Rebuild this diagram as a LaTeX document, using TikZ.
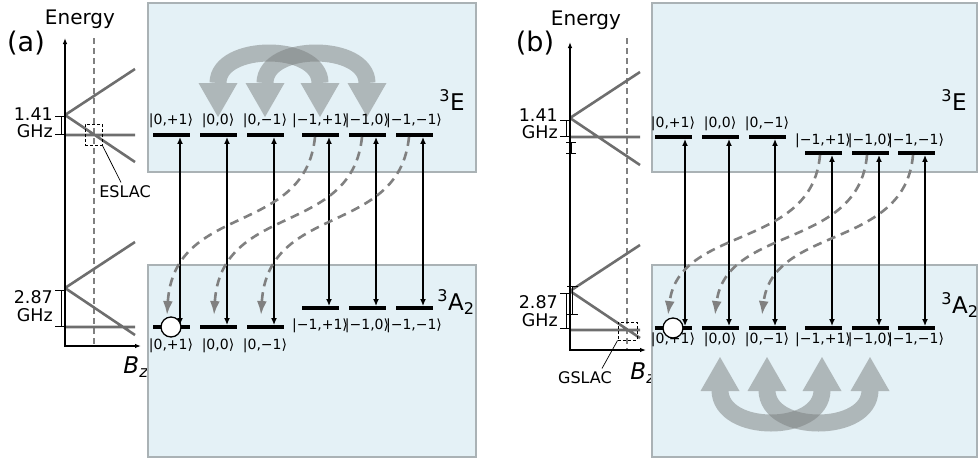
\documentclass[tikz,border=0pt]{standalone}
\usepackage{fontspec}
\setmainfont{DejaVu Sans}
\usetikzlibrary{arrows.meta,positioning}
\definecolor{boxfill}{RGB}{228,241,246}
\definecolor{boxline}{RGB}{170,178,181}
\definecolor{lineg}{RGB}{110,110,110}
\definecolor{dashg}{RGB}{128,128,128}
\definecolor{mixg}{RGB}{122,126,126}

\begin{document}
\begin{tikzpicture}[x=1pt, y=-1pt, >=Latex,
  panel/.style={fill=boxfill, draw=boxline, line width=1.2pt},
  level/.style={rectangle, fill=black, inner sep=0pt, minimum width=37pt, minimum height=3.5pt},
  ket/.style={inner sep=1pt, font=\fontsize{14}{16}\selectfont},
  trans/.style={{Latex[length=7pt,width=6pt]}-{Latex[length=7pt,width=6pt]}, line width=1.5pt},
  decay/.style={-{Latex[length=14pt,width=10pt]}, draw=dashg, line width=2.6pt, dash pattern=on 9pt off 6pt},
  branch/.style={draw=lineg, line width=2.6pt},
  guide/.style={draw=dashg, line width=1.3pt, dash pattern=on 6pt off 4pt},
  axis/.style={line width=1.1pt, {Latex[length=6pt,width=4.5pt]}-{Latex[length=6pt,width=4.5pt]}},
  bracket/.style={line width=0.7pt},
  mixarrow/.style={draw=mixg, line width=17pt, {Triangle[width=39pt,length=34pt,line width=0pt]}-{Triangle[width=39pt,length=34pt,line width=0pt]}},
  lac/.style={draw, dash pattern=on 3pt off 2pt, line width=0.9pt, inner sep=0pt},
  pop/.style={circle, draw, fill=white, line width=1.3pt, minimum size=20pt, inner sep=0pt},
  tag/.style={font=\fontsize{27}{32}\selectfont},
  axlabel/.style={font=\fontsize{20}{24}\selectfont},
  gap/.style={anchor=east, inner sep=0pt, font=\fontsize{17.5}{18}\selectfont},
  term/.style={font=\fontsize{23}{26}\selectfont}]
\useasboundingbox (0,0) rectangle (980,459);

% (a) level diagram
\node[tag] (taga) at (26,43) {(a)};\node[axlabel] (ena) at (80,19) {Energy};
\draw[guide] (94,38) -- (94,346);
\draw[branch] (65,115) -- (135,69) (65,115) -- (135,162) (65,135) -- (135,135);
\draw[branch] (65,288) -- (135,242) (65,288) -- (135,335) (65,327) -- (135,327);
\draw[axis] (65,38) -- (65,346) -- (141,346);
\node[term] (bza) at (136,367) {\textit{B}\textsubscript{\textit{z}}};
\draw[bracket] (55,116) -- (65,116) (55,134) -- (65,134) (61,116) -- (61,134);
\draw[bracket] (55,290) -- (65,290) (55,326) -- (65,326) (61,290) -- (61,326);
\node[gap] (fesa) at (53,114.5) {1.41};\node[gap, below=3.5pt of fesa.south east, anchor=north east] (ghza) {GHz};
\node[gap] (fgsa) at (53,297.5) {2.87};\node[gap, below=3.5pt of fgsa.south east, anchor=north east] (ghzga) {GHz};
\node[lac, minimum width=17pt, minimum height=21pt] (eslacbox) at (93.5,134.5) {};
\node[font=\fontsize{16}{18}\selectfont] (eslac) at (125,192) {ESLAC};
\draw[line width=0.7pt] (eslacbox.south east) -- ([xshift=-4pt]eslac.north);

% (a) states
\draw[panel] (148,3) rectangle (476,172);\draw[panel] (148,265) rectangle (476,457);
\node[term] (ea) at (452,100) {\textsuperscript{3}E};\node[term] (ga) at (456,302) {\textsuperscript{3}A\textsubscript{2}};
\begin{scope}[transparency group, opacity=0.5]
\draw[mixarrow] (218,117) -- (218,83) .. controls (218,43) and (320,43) .. (320,83) -- (320,117);
\end{scope}
\begin{scope}[transparency group, opacity=0.5]
\draw[mixarrow] (265,117) -- (265,83) .. controls (265,43) and (367,43) .. (367,83) -- (367,117);
\end{scope}
\node[level] (ea1) at (171,135) {};\node[level] (ea2) at (218,135) {};\node[level] (ea3) at (265,135) {};
\node[level] (ea4) at (320,135) {};\node[level] (ea5) at (367,135) {};\node[level] (ea6) at (414,135) {};
\node[level] (ga1) at (171,327) {};\node[level] (ga2) at (218,327) {};\node[level] (ga3) at (265,327) {};
\node[level] (ga4) at (320,308) {};\node[level] (ga5) at (367,308) {};\node[level] (ga6) at (414,308) {};
\node[ket, above=4pt of ea1] (kea1) {|0,+1⟩};\node[ket, above=4pt of ea2] (kea2) {|0,0⟩};\node[ket, above=4pt of ea3] (kea3) {|0,−1⟩};
\node[ket, above=4pt of ea4] (kea4) {|−1,+1⟩};\node[ket, above=4pt of ea5] (kea5) {|−1,0⟩};\node[ket, above=4pt of ea6] (kea6) {|−1,−1⟩};
\node[ket, below=9pt of ga1] (kga1) {|0,+1⟩};\node[ket, below=9pt of ga2] (kga2) {|0,0⟩};\node[ket, below=9pt of ga3] (kga3) {|0,−1⟩};
\node[ket, below=8pt of ga4] (kga4) {|−1,+1⟩};\node[ket, below=8pt of ga5] (kga5) {|−1,0⟩};\node[ket, below=8pt of ga6] (kga6) {|−1,−1⟩};
\node[pop] (popa) at (ga1) {};
\draw[trans] ([xshift=9pt]ga1.north) -- ([xshift=9pt]ea1.south);\draw[trans] ([xshift=9pt]ga2.north) -- ([xshift=9pt]ea2.south);
\draw[trans] ([xshift=9pt]ga3.north) -- ([xshift=9pt]ea3.south);\draw[trans] ([xshift=9pt]ga4.north) -- ([xshift=9pt]ea4.south);
\draw[trans] ([xshift=9pt]ga5.north) -- ([xshift=9pt]ea5.south);\draw[trans] ([xshift=9pt]ga6.north) -- ([xshift=9pt]ea6.south);
\draw[decay] ([xshift=-5pt]ea4.south) .. controls +(-10,100) and +(7,-113) .. ([xshift=-4pt,yshift=10pt]ga1.north);
\draw[decay] ([xshift=-5pt]ea5.south) .. controls +(-10,100) and +(7,-113) .. ([xshift=-4pt,yshift=10pt]ga2.north);
\draw[decay] ([xshift=-5pt]ea6.south) .. controls +(-10,100) and +(7,-113) .. ([xshift=-4pt,yshift=10pt]ga3.north);

% (b) level diagram
\node[tag] (tagb) at (535,43) {(b)};\node[axlabel] (enb) at (586,20) {Energy};
\draw[guide] (627,38) -- (627,350);
\draw[branch] (570,118) -- (640,72) (570,118) -- (640,165) (570,137) -- (640,137);
\draw[branch] (570,291) -- (640,245) (570,291) -- (640,338) (570,330) -- (640,330);
\draw[axis] (570,42) -- (570,350) -- (646,350);
\node[term] (bzb) at (643,373) {\textit{B}\textsubscript{\textit{z}}};
\draw[bracket] (560,120) -- (570,120) (560,136) -- (570,136) (566,120) -- (566,136);
\draw[bracket] (566,142) -- (576,142) (566,153) -- (576,153) (571,142) -- (571,153);
\draw[bracket] (560,293) -- (570,293) (560,328) -- (570,328) (566,293) -- (566,328);
\draw[bracket] (567,286) -- (578,286) (567,314) -- (578,314) (572,286) -- (572,314);
\node[gap] (fesb) at (558,115.5) {1.41};\node[gap, below=3.5pt of fesb.south east, anchor=north east] (ghzb) {GHz};
\node[gap] (fgsb) at (558,302.5) {2.87};\node[gap, below=3.5pt of fgsb.south east, anchor=north east] (ghzgb) {GHz};
\node[lac, minimum width=19pt, minimum height=18pt] (gslacbox) at (627.5,331) {};
\node[font=\fontsize{16}{18}\selectfont] (gslac) at (585,378) {GSLAC};
\draw[line width=0.7pt] (gslacbox.south west) -- ([xshift=17pt]gslac.north);

% (b) states
\draw[panel] (652,3) rectangle (977,172);\draw[panel] (652,265) rectangle (977,457);
\node[term] (eb) at (954,100) {\textsuperscript{3}E};\node[term] (gb) at (960,305) {\textsuperscript{3}A\textsubscript{2}};
\begin{scope}[transparency group, opacity=0.5]
\draw[mixarrow] (720,357) -- (720,390) .. controls (720,434) and (822,434) .. (822,390) -- (822,357);
\end{scope}
\begin{scope}[transparency group, opacity=0.5]
\draw[mixarrow] (767,357) -- (767,390) .. controls (767,434) and (870,434) .. (870,390) -- (870,357);
\end{scope}
\node[level] (eb1) at (673,137) {};\node[level] (eb2) at (720,137) {};\node[level] (eb3) at (767,137) {};
\node[level] (eb4) at (823,153) {};\node[level] (eb5) at (870,153) {};\node[level] (eb6) at (916,153) {};
\node[level] (gb1) at (673,328) {};\node[level] (gb2) at (720,328) {};\node[level] (gb3) at (767,328) {};
\node[level] (gb4) at (823,328) {};\node[level] (gb5) at (870,328) {};\node[level] (gb6) at (916,328) {};
\node[ket, above=3pt of eb1] (keb1) {|0,+1⟩};\node[ket, above=3pt of eb2] (keb2) {|0,0⟩};\node[ket, above=3pt of eb3] (keb3) {|0,−1⟩};
\node[ket, above=2pt of eb4] (keb4) {|−1,+1⟩};\node[ket, above=2pt of eb5] (keb5) {|−1,0⟩};\node[ket, above=2pt of eb6] (keb6) {|−1,−1⟩};
\node[ket, below=2pt of gb1] (kgb1) {|0,+1⟩};\node[ket, below=2pt of gb2] (kgb2) {|0,0⟩};\node[ket, below=2pt of gb3] (kgb3) {|0,−1⟩};
\node[ket, below=2pt of gb4] (kgb4) {|−1,+1⟩};\node[ket, below=2pt of gb5] (kgb5) {|−1,0⟩};\node[ket, below=2pt of gb6] (kgb6) {|−1,−1⟩};
\node[pop] (popb) at (gb1) {};
\draw[trans] ([xshift=12pt]gb1.north) -- ([xshift=12pt]eb1.south);\draw[trans] ([xshift=9pt]gb2.north) -- ([xshift=9pt]eb2.south);
\draw[trans] ([xshift=8pt]gb3.north) -- ([xshift=8pt]eb3.south);\draw[trans] ([xshift=9pt]gb4.north) -- ([xshift=9pt]eb4.south);
\draw[trans] ([xshift=9pt]gb5.north) -- ([xshift=9pt]eb5.south);\draw[trans] ([xshift=9pt]gb6.north) -- ([xshift=9pt]eb6.south);
\draw[decay] ([xshift=-3pt]eb4.south) .. controls +(-8,95) and +(11,-90) .. ([xshift=-5pt,yshift=11pt]gb1.north);
\draw[decay] ([xshift=-3pt]eb5.south) .. controls +(-8,95) and +(11,-90) .. ([xshift=-5pt,yshift=11pt]gb2.north);
\draw[decay] ([xshift=-3pt]eb6.south) .. controls +(-8,95) and +(11,-90) .. ([xshift=-5pt,yshift=11pt]gb3.north);
\end{tikzpicture}
\end{document}
